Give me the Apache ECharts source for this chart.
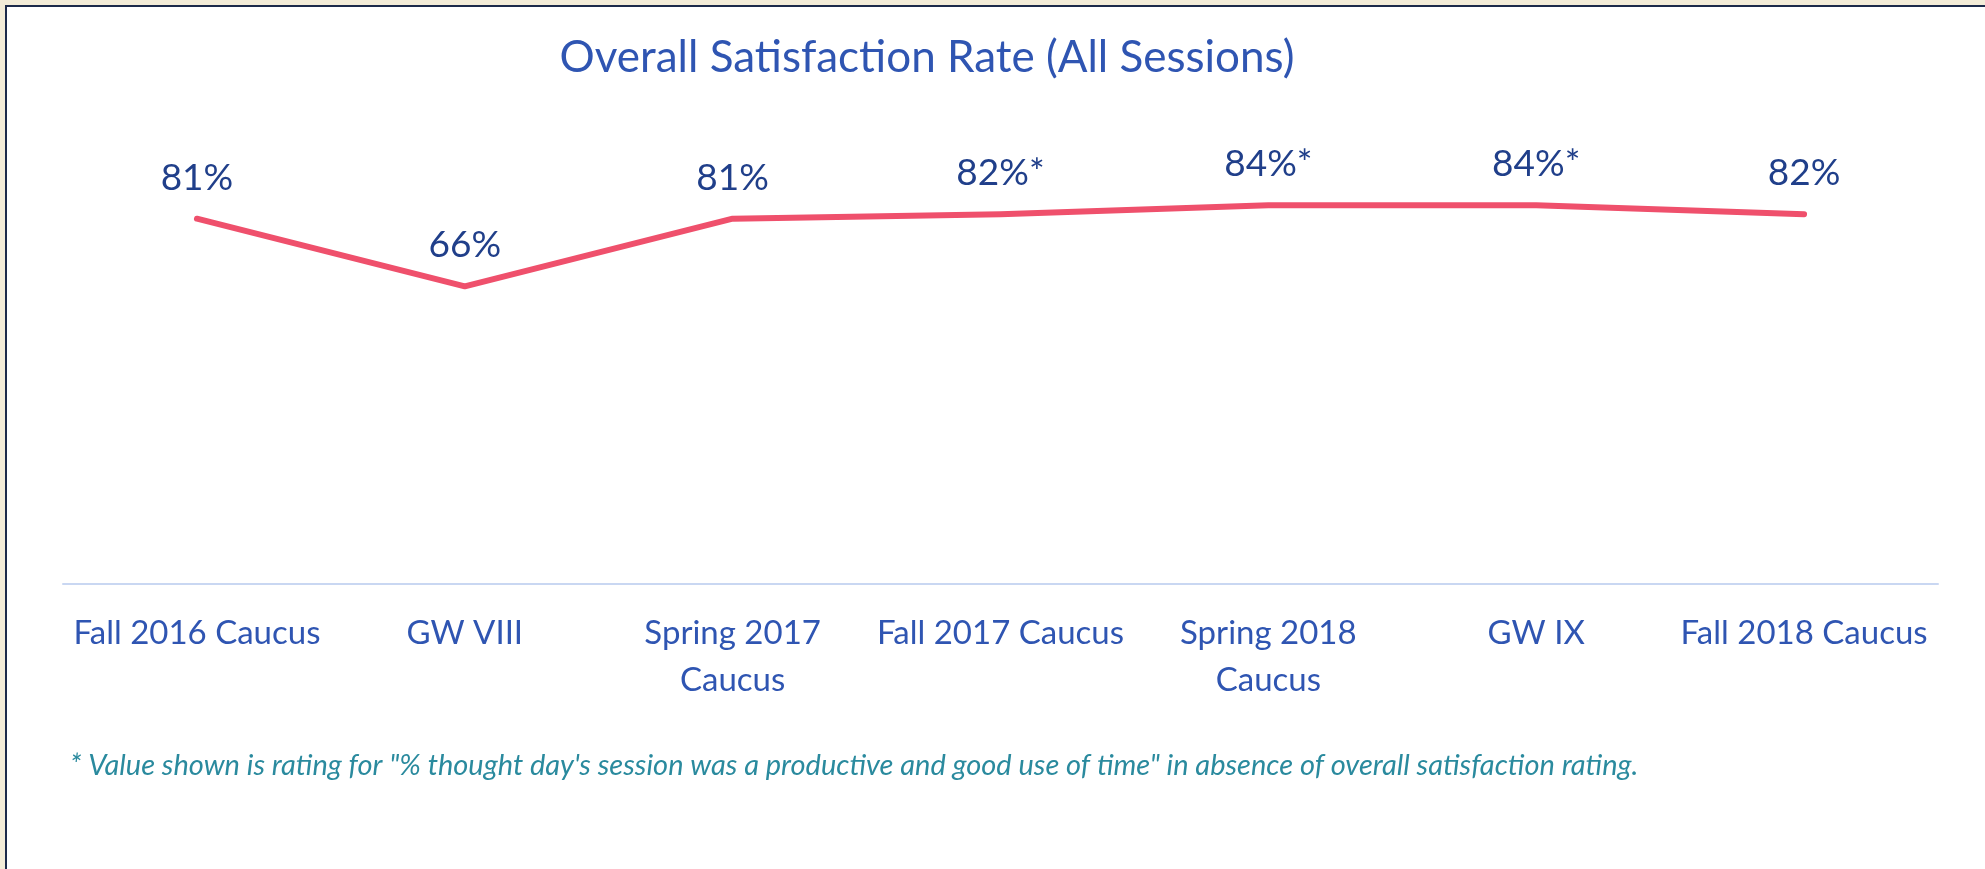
<!DOCTYPE html>
<html>
<head>
<meta charset="utf-8">
<script src="https://cdn.jsdelivr.net/npm/echarts@6/dist/echarts.min.js"></script>
<style>
html,body{margin:0;padding:0;background:#f3ecd8;}
#chart{width:1985px;height:869px;}
</style>
</head>
<body>
<div id="chart"></div>
<script>
const categories = ['Fall 2016 Caucus', 'GW VIII', 'Spring 2017\nCaucus', 'Fall 2017 Caucus', 'Spring 2018\nCaucus', 'GW IX', 'Fall 2018 Caucus'];
const satisfaction = [81, 66, 81, 82, 84, 84, 82];
const productiveProxy = [false, false, false, true, true, true, false];
const titleText = 'Overall Satisfaction Rate (All Sessions)';
const footnote = '* Value shown is rating for "% thought day\'s session was a productive and good use of time" in absence of overall satisfaction rating.';

const FONT = 'Lato';
const chart = echarts.init(document.getElementById('chart'));
chart.setOption({
  animation: false,
  backgroundColor: '#ffffff',
  graphic: [
    {type: 'rect', z: -10, shape: {x: 0, y: 0, width: 1985, height: 869}, style: {fill: '#f3ecd8'}},
    {type: 'rect', z: -9, shape: {x: 6, y: 6, width: 1985, height: 870}, style: {fill: '#ffffff', stroke: '#1c2a4a', lineWidth: 2}},
    {type: 'text', left: 70, top: 751, style: {text: footnote, font: 'italic 29px ' + FONT, fill: '#2a8a9e'}}
  ],
  title: {
    text: titleText,
    left: 922, top: 31, textAlign: 'center',
    textStyle: {fontFamily: FONT, fontWeight: 'normal', fontSize: 44, color: '#2f55b2'}
  },
  grid: {left: 63, right: 47, top: 133, bottom: 869 - 584, containLabel: false},
  xAxis: {
    type: 'category', data: categories, boundaryGap: true,
    axisLine: {lineStyle: {color: '#c9d7f2', width: 2}},
    axisTick: {show: false},
    axisLabel: {fontFamily: FONT, fontSize: 33, color: '#2f55b2', margin: 26, lineHeight: 47, interval: 0}
  },
  yAxis: {type: 'value', min: 0, max: 100, show: false, splitLine: {show: false}},
  series: [{
    type: 'line', data: satisfaction, symbol: 'circle', symbolSize: 1, showSymbol: true,
    itemStyle: {color: 'rgba(0,0,0,0)'},
    lineStyle: {color: '#ef506c', width: 6, cap: 'round', join: 'round'},
    label: {
      show: true, position: 'top', distance: 22,
      fontFamily: FONT, fontSize: 37, color: '#203f8a',
      formatter: p => p.value + '%' + (productiveProxy[p.dataIndex] ? '*' : '')
    },
    labelLayout: {hideOverlap: false}
  }]
});
</script>
</body>
</html>
